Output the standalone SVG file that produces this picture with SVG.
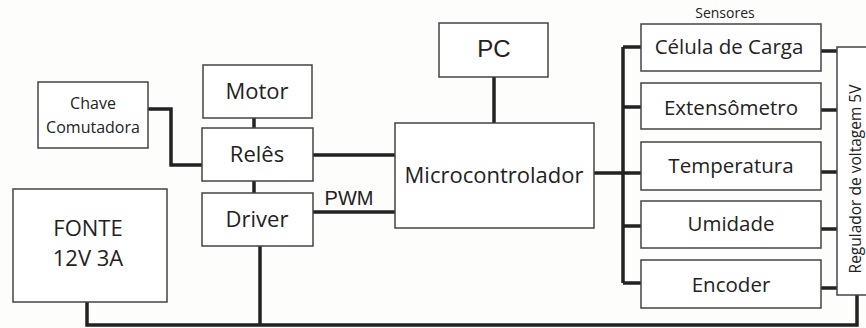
<svg xmlns="http://www.w3.org/2000/svg" width="866" height="328" viewBox="0 0 866 328">
<style>
.box{fill:#fff;stroke:#444;stroke-width:1.5}
.ln{fill:none;stroke:#222;stroke-width:3.5;stroke-linejoin:miter}
text{font-family:"Open Sans","Noto Sans",sans-serif;fill:#222;text-anchor:middle}
.ar{font-family:"Liberation Sans",Arial,sans-serif}
</style>
<rect width="866" height="328" fill="#fdfdfc"/>
<g id="connectors">
<path class="ln" d="M148,109 H171 V165 H202"/>
<path class="ln" d="M254,118 V128 M254,181 V193"/>
<path class="ln" d="M313,155 H395 M313,212 H395"/>
<path class="ln" d="M494,77 V123"/>
<path class="ln" d="M594,173 H641"/>
<path class="ln" d="M623,47 V283 M623,47 H641 M623,107 H641 M623,226 H641 M623,283 H641"/>
<path class="ln" d="M821,51 H837 M821,110 H837 M821,172 H837 M821,229 H837 M821,288 H837"/>
<path class="ln" d="M87,302 V325 H857 V295 M260,246 V325"/>
<text class="ar" x="349" y="205" font-size="20">PWM</text>
</g>
<g id="chave"><rect class="box" x="38" y="82" width="110" height="66"/><text x="93" y="109" font-size="16">Chave</text><text x="93" y="133" font-size="16">Comutadora</text></g>
<g id="motor"><rect class="box" x="203" y="65" width="109" height="53"/><text x="257" y="99" font-size="22">Motor</text></g>
<g id="reles"><rect class="box" x="202" y="128" width="111" height="53"/><text x="257" y="162" font-size="22">Relês</text></g>
<g id="driver"><rect class="box" x="202" y="193" width="111" height="53"/><text x="257" y="227" font-size="22">Driver</text></g>
<g id="fonte"><rect class="box" x="13" y="189" width="154" height="113"/><text x="88" y="236" font-size="22">FONTE</text><text x="88" y="266" font-size="22">12V 3A</text></g>
<g id="pc"><rect class="box" x="439" y="23" width="109" height="54"/><text class="ar" x="494" y="57" font-size="24">PC</text></g>
<g id="micro"><rect class="box" x="395" y="123" width="199" height="105"/><text x="494" y="183" font-size="22">Microcontrolador</text></g>
<g id="sensores"><text x="725" y="18" font-size="14">Sensores</text>
<g id="celula"><rect class="box" x="641" y="24" width="180" height="47"/><text x="729" y="54" font-size="20.5">Célula de Carga</text></g>
<g id="extensometro"><rect class="box" x="641" y="83" width="180" height="46"/><text x="731" y="115" font-size="20.5">Extensômetro</text></g>
<g id="temperatura"><rect class="box" x="641" y="142" width="180" height="48"/><text x="731" y="173" font-size="20.5">Temperatura</text></g>
<g id="umidade"><rect class="box" x="641" y="201" width="180" height="47"/><text x="731" y="231" font-size="20.5">Umidade</text></g>
<g id="encoder"><rect class="box" x="641" y="260" width="180" height="48"/><text x="731" y="292" font-size="20.5">Encoder</text></g>
</g>
<g id="regulador"><rect class="box" x="837" y="47" width="40" height="248"/><text x="0" y="0" font-size="15.5" transform="translate(861,179) rotate(-90)">Regulador de voltagem 5V</text></g>
</svg>
